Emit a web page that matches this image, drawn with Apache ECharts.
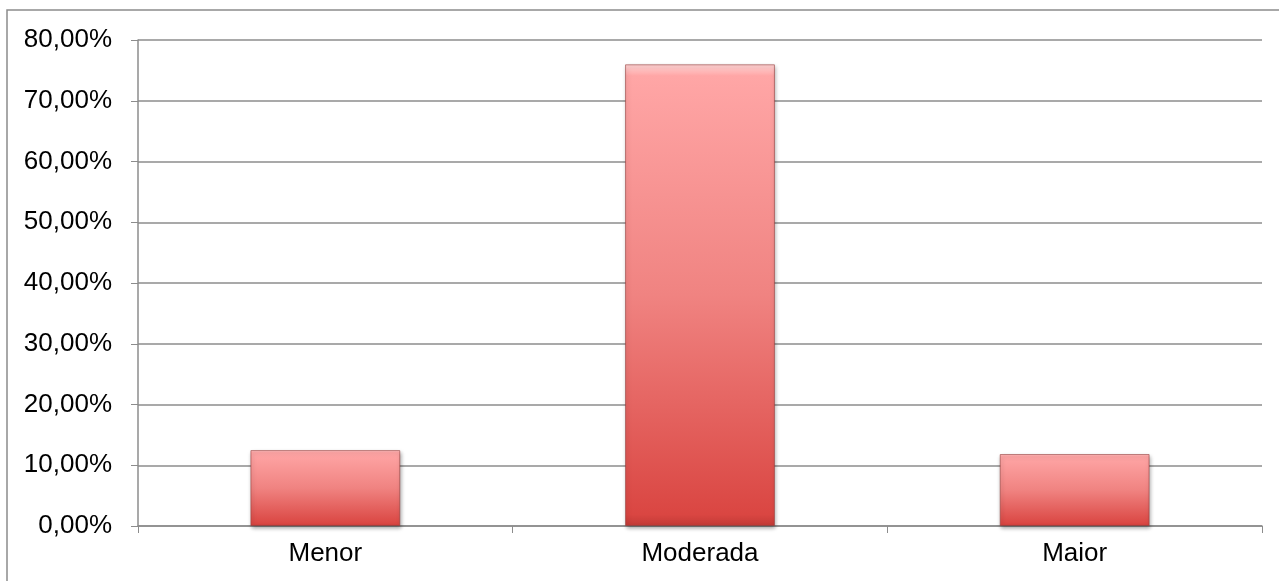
<!DOCTYPE html>
<html>
<head>
<meta charset="utf-8">
<script src="https://cdn.jsdelivr.net/npm/echarts@6/dist/echarts.min.js"></script>
<style>
  html, body { margin: 0; padding: 0; background: #fff; }
  #chart { width: 1279px; height: 581px; }
</style>
</head>
<body>
<div id="chart"></div>
<script>
// Share of cases by severity
const categories = ['Menor', 'Moderada', 'Maior'];
const shares = [12.5, 76.0, 11.85];
const yTicks = [0, 10, 20, 30, 40, 50, 60, 70, 80];

const chart = echarts.init(document.getElementById('chart'));

const barFill = new echarts.graphic.LinearGradient(0, 0, 0, 1, [
  { offset: 0, color: '#FFD6D6' },
  { offset: 0.025, color: '#FFA6A6' },
  { offset: 0.5, color: '#F08381' },
  { offset: 0.975, color: '#DA4642' },
  { offset: 1, color: '#C23A36' }
]);

chart.setOption({
  animation: false,
  graphic: [{
    type: 'rect',
    shape: { x: 7, y: 10, width: 1400, height: 700 },
    style: { fill: 'none', stroke: '#8c8c8c', lineWidth: 1.5 },
    silent: true,
    z: -1
  }],
  grid: { left: 138, right: 17, top: 40, bottom: 55 },
  xAxis: {
    type: 'category',
    data: categories,
    axisLine: { lineStyle: { color: '#8c8c8c', width: 1.5 } },
    axisTick: { show: true, length: 7, lineStyle: { color: '#8c8c8c' } },
    axisLabel: {
      color: '#000',
      fontFamily: 'Liberation Sans, Arial, sans-serif',
      fontSize: 26,
      margin: 15
    }
  },
  yAxis: {
    type: 'value',
    min: yTicks[0],
    max: yTicks[yTicks.length - 1],
    interval: 10,
    axisLine: { show: true, lineStyle: { color: '#8c8c8c', width: 1.5 } },
    axisTick: { show: true, length: 7, lineStyle: { color: '#8c8c8c' } },
    splitLine: { lineStyle: { color: '#8c8c8c', width: 1.5 } },
    axisLabel: {
      color: '#000',
      fontFamily: 'Liberation Sans, Arial, sans-serif',
      fontSize: 26,
      margin: 26,
      formatter: v => v.toFixed(2).replace('.', ',') + '%'
    }
  },
  series: [{
    type: 'bar',
    data: shares,
    barWidth: '40%',
    itemStyle: {
      color: barFill,
      borderColor: 'rgba(150,60,58,0.6)',
      borderWidth: 1,
      shadowColor: 'rgba(0,0,0,0.35)',
      shadowBlur: 4,
      shadowOffsetX: 1,
      shadowOffsetY: 2
    }
  }]
});
</script>
</body>
</html>
